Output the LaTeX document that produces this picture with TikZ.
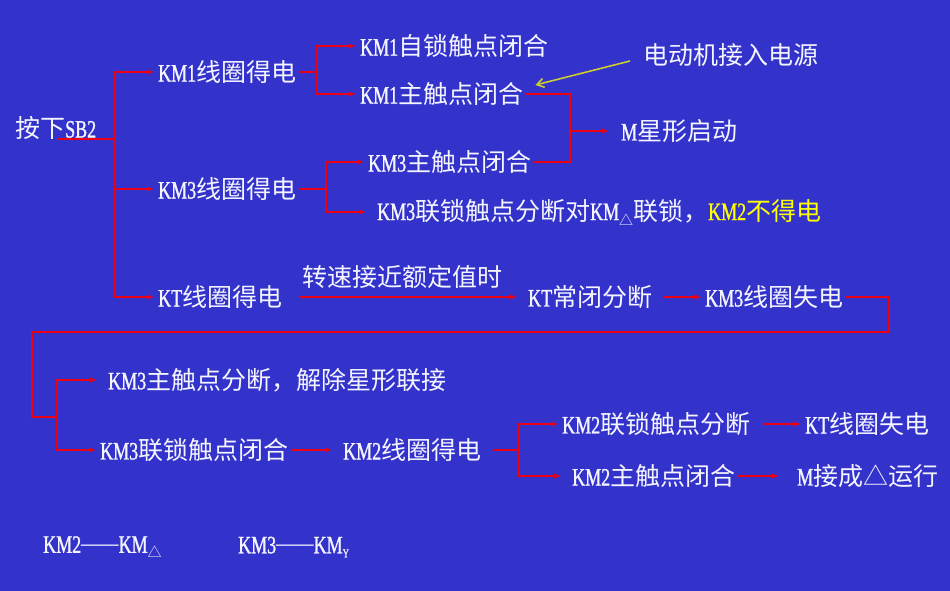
\documentclass[tikz,border=0pt]{standalone}
\usepackage{fontspec}
\setmainfont{Noto Sans CJK SC}
\newfontfamily\lat[FakeStretch=0.72,FakeBold=1]{Liberation Serif}
\newfontfamily\latw{Liberation Serif}
\usetikzlibrary{arrows.meta,calc}
\definecolor{bg}{RGB}{51,51,204}
\definecolor{lred}{RGB}{235,0,20}
\definecolor{yel}{RGB}{255,255,0}
\definecolor{yarrc}{RGB}{205,205,50}
\definecolor{txtc}{RGB}{245,245,255}
\newcommand\latn[1]{{\lat #1}}
\newcommand\tri{\raisebox{-5pt}{\fontsize{14}{14}\selectfont △}}
\tikzset{
  txt/.style={text=txtc, inner sep=0pt, inner xsep=3pt, anchor=west, font=\fontsize{25}{28}\selectfont},
  ln/.style={draw=lred, line width=1.6pt},
  arr/.style={ln, -{Latex[length=8pt,width=5pt]}},
  yarr/.style={draw=yarrc, line width=1.6pt, -{Straight Barb[length=7pt,width=9pt]}}
}
\begin{document}
\begin{tikzpicture}[x=1pt,y=-1pt]
\fill[bg] (0,0) rectangle (950,591);
% nodes
\node[txt] (sb) at (12,128) {按下\latn{SB2}};
\node[txt] (k1c) at (155,72) {\latn{KM1}线圈得电};
\node[txt] (k3c) at (155,189) {\latn{KM3}线圈得电};
\node[txt] (ktc) at (155,297) {\latn{KT}线圈得电};
\node[txt] (a1) at (357,46) {\latn{KM1}自锁触点闭合};
\node[txt] (a2) at (357,94) {\latn{KM1}主触点闭合};
\node[txt] (b1) at (365,162) {\latn{KM3}主触点闭合};
\node[txt] (b2) at (374,212) {\latn{KM3}联锁触点分断对\latn{KM}\tri 联锁，\textcolor{yel}{\latn{KM2}不得电}};
\node[txt] (mst) at (618,131) {\latn{M}星形启动};
\node[txt] (motor) at (640,55) {电动机接入电源};
\node[txt] (spd) at (299,277) {转速接近额定值时};
\node[txt] (ktnc) at (525,297) {\latn{KT}常闭分断};
\node[txt] (k3off) at (702,297) {\latn{KM3}线圈失电};
\node[txt] (c1) at (105,380) {\latn{KM3}主触点分断，解除星形联接};
\node[txt] (c2) at (97,450) {\latn{KM3}联锁触点闭合};
\node[txt] (c3) at (340,450) {\latn{KM2}线圈得电};
\node[txt] (d1) at (559,424) {\latn{KM2}联锁触点分断};
\node[txt] (d3) at (802,424) {\latn{KT}线圈失电};
\node[txt] (d2) at (569,476) {\latn{KM2}主触点闭合};
\node[txt] (d4) at (794,476) {\latn{M}接成△运行};
\node[txt] (l1) at (40,547) {\latn{KM2}{\latw\raisebox{1.5pt}{–––}}\latn{KM}\tri};
\node[txt] (l2) at (235,547) {\latn{KM3}{\latw\raisebox{1.5pt}{–––}}\latn{KM}\raisebox{-4pt}{\fontsize{12}{12}\selectfont\lat Y}};
% junctions
\coordinate (s0) at (57,139);
\coordinate (t0) at (115,139);
\coordinate (j1) at (317,72);
\coordinate (j3) at (326,189);
\coordinate (j2) at (570,131);
\coordinate (r1) at (889,332);
\coordinate (r2) at (32,332);
\coordinate (j4) at (57,417);
\coordinate (j5) at (519,450);
% connectors
\draw[ln] (s0) -- (t0);
\draw[arr] (t0) |- (k1c.west);
\draw[arr] (t0) |- (k3c.west);
\draw[arr] (t0) |- (ktc.west);
\draw[ln] (k1c.east) -- (j1);
\draw[arr] (j1) |- (a1.west);
\draw[arr] (j1) |- (a2.west);
\draw[ln] (k3c.east) -- (j3);
\draw[arr] (j3) |- (b1.west);
\draw[arr, shorten >=7pt] (j3) |- (b2.west);
\draw[ln] (a2.east) -| (j2);
\draw[ln] (b1.east) -| (j2);
\draw[arr, shorten >=8pt] (j2) -- (mst.west);
\draw[yarr] ($(motor.west)+(-10,6)$) -- ($(a2.east)+(9,-9)$);
\draw[arr, shorten <=14pt, shorten >=7pt] (ktc.east) -- (ktnc.west);
\draw[arr, shorten <=8pt] (ktnc.east) -- (k3off.west);
\draw[ln] (k3off.east) -| (r1) -- (r2) |- (j4);
\draw[arr, shorten >=7pt] (j4) |- (c1.west);
\draw[arr] (j4) |- (c2.west);
\draw[arr, shorten >=7pt] (c2.east) -- (c3.west);
\draw[ln, shorten <=10pt] (c3.east) -- (j5);
\draw[arr] (j5) |- (d1.west);
\draw[arr, shorten >=7pt] (j5) |- (d2.west);
\draw[arr, shorten <=10pt] (d1.east) -- (d3.west);
\draw[arr, shorten >=14pt] (d2.east) -- (d4.west);
\end{tikzpicture}
\end{document}
